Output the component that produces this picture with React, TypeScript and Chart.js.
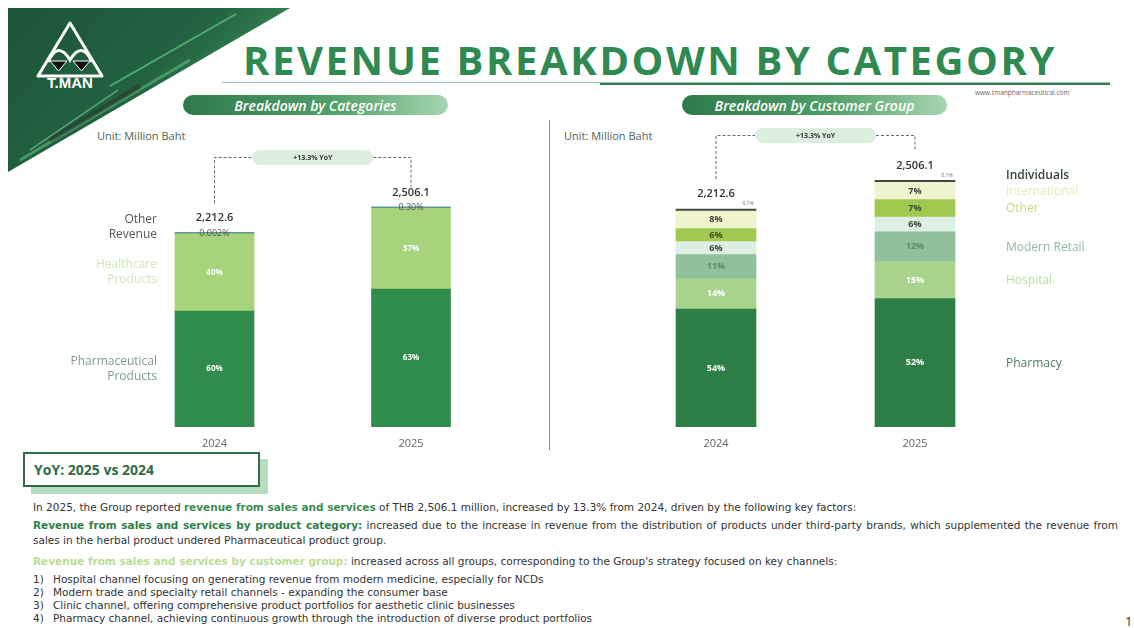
import React, { useEffect, useRef } from 'react';
import { Chart, registerables } from 'chart.js';

Chart.register(...registerables);

// ---------------- data ----------------
const years = ['2024', '2025'];
const totals = [2212.6, 2506.1];
const totalLabels = ['2,212.6', '2,506.1'];
const yoyText = '+13.3% YoY';

// Breakdown by categories (share of revenue, %)
const pharmaceuticalShare = [60, 63];
const healthcareShare = [40, 37];
const otherRevenueShare = [0.002, 0.3];
const otherRevenueLabels = ['0.002%', '0.30%'];

// Breakdown by customer group (share of revenue, %)
const pharmacyShare = [54, 52];
const hospitalShare = [14, 15];
const modernRetailShare = [11, 12];
const clinicShare = [6, 6];
const otherGroupShare = [6, 7];
const internationalShare = [8, 7];
const individualsShare = [0.1, 0.1];

const toValues = (share: number[]) => share.map((s, i) => (totals[i] * s) / 100);

const FONT = "'Open Sans', 'Noto Sans', sans-serif";

function drawBracket(chart: any, y: number, ends: number[]) {
  const ctx = chart.ctx;
  const xs = [0, 1].map((i) => chart.scales.x.getPixelForValue(i));
  const mid = (xs[0] + xs[1]) / 2;
  const pw = 121;
  const ph = 15;
  ctx.save();
  ctx.strokeStyle = '#6b6b6b';
  ctx.lineWidth = 1;
  ctx.setLineDash([3, 2]);
  ctx.beginPath();
  ctx.moveTo(xs[0], ends[0]);
  ctx.lineTo(xs[0], y);
  ctx.lineTo(mid - pw / 2, y);
  ctx.moveTo(mid + pw / 2, y);
  ctx.lineTo(xs[1], y);
  ctx.lineTo(xs[1], ends[1]);
  ctx.stroke();
  ctx.setLineDash([]);
  ctx.fillStyle = '#dcefdf';
  ctx.beginPath();
  (ctx as any).roundRect(mid - pw / 2, y - ph / 2, pw, ph, 7.5);
  ctx.fill();
  ctx.fillStyle = '#333';
  ctx.font = `bold 7px ${FONT}`;
  ctx.textAlign = 'center';
  ctx.textBaseline = 'middle';
  ctx.fillText(yoyText, mid, y + 0.5);
  ctx.restore();
}

function stackTop(chart: any, idx: number) {
  let top = Infinity;
  chart.data.datasets.forEach((_d: any, di: number) => {
    const el = chart.getDatasetMeta(di).data[idx] as any;
    top = Math.min(top, el.y);
  });
  return top;
}

// ---------- left chart: categories ----------
const leftSide = [
  { lines: ['Pharmaceutical', 'Products'], color: '#7f9c89' },
  { lines: ['Healthcare', 'Products'], color: '#cfe6b8' },
  { lines: ['Other', 'Revenue'], color: '#555555' },
];

const leftPlugin = {
  id: 'leftDecor',
  afterDatasetsDraw(chart: any) {
    const ctx = chart.ctx;
    ctx.save();
    ctx.textAlign = 'center';
    ctx.textBaseline = 'middle';
    [0, 1].forEach((di) => {
      const meta = chart.getDatasetMeta(di);
      const shares = di === 0 ? pharmaceuticalShare : healthcareShare;
      meta.data.forEach((el: any, i: number) => {
        ctx.fillStyle = '#ffffff';
        ctx.font = `bold 8px ${FONT}`;
        ctx.fillText(`${shares[i]}%`, el.x, (el.y + el.base) / 2);
      });
    });
    const tops = [0, 1].map((i) => stackTop(chart, i));
    chart.getDatasetMeta(2).data.forEach((el: any, i: number) => {
      ctx.fillStyle = '#555';
      ctx.font = `9px ${FONT}`;
      ctx.fillText(otherRevenueLabels[i], el.x, tops[i] + 1);
      ctx.fillStyle = '#333';
      ctx.font = `600 11px ${FONT}`;
      ctx.fillText(totalLabels[i], el.x, tops[i] - 14);
      ctx.fillStyle = '#666';
      ctx.font = `11px ${FONT}`;
      ctx.fillText(years[i], el.x, chart.chartArea.bottom + 17);
    });
    ctx.textAlign = 'right';
    ctx.font = `12px ${FONT}`;
    const first = chart.getDatasetMeta(0).data[0] as any;
    const xr = first.x - first.width / 2 - 18;
    leftSide.forEach((s, di) => {
      const el = chart.getDatasetMeta(di).data[0] as any;
      const cy = di === 2 ? tops[0] - 5 : (el.y + el.base) / 2;
      ctx.fillStyle = s.color;
      ctx.fillText(s.lines[0], xr, cy - 7.5);
      ctx.fillText(s.lines[1], xr, cy + 7.5);
    });
    ctx.restore();
    drawBracket(chart, 157.5 - 140, [tops[0] - 29, tops[1] - 20]);
  },
};

function leftConfig(): any {
  return {
    type: 'bar',
    data: {
      labels: years,
      datasets: [
        { label: 'Pharmaceutical Products', data: toValues(pharmaceuticalShare), backgroundColor: '#2f8c4c' },
        { label: 'Healthcare Products', data: toValues(healthcareShare), backgroundColor: '#a7d37c' },
        { label: 'Other Revenue', data: toValues(otherRevenueShare), backgroundColor: '#5d9a95', minBarLength: 1.5 },
      ],
    },
    options: {
      animation: false,
      responsive: false,
      layout: { padding: { left: 66.25, right: 10.75, top: 25.1, bottom: 33 } },
      datasets: { bar: { barThickness: 79, borderWidth: 0 } },
      scales: {
        x: { display: false, stacked: true },
        y: { display: false, stacked: true, min: 0, max: 3000 },
      },
      plugins: { legend: { display: false }, tooltip: { enabled: false } },
    },
    plugins: [leftPlugin],
  };
}

// ---------- right chart: customer group ----------
const groups = [
  { name: 'Pharmacy', share: pharmacyShare, color: '#2e7f47', text: '#ffffff', legend: '#4f7d5f' },
  { name: 'Hospital', share: hospitalShare, color: '#a9d38c', text: '#ffffff', legend: '#bcdda2' },
  { name: 'Modern Retail', share: modernRetailShare, color: '#8fc19c', text: '#5a8a68', legend: '#93b9a0' },
  { name: 'Clinic', share: clinicShare, color: '#deefe3', text: '#3d3d3d', legend: '' },
  { name: 'Other', share: otherGroupShare, color: '#a2c94f', text: '#3a4a2a', legend: '#c4da80' },
  { name: 'International', share: internationalShare, color: '#eff4cd', text: '#3d3d3d', legend: '#e4eeb6' },
  { name: 'Individuals', share: individualsShare, color: '#3e4a45', text: '#666666', legend: '#34423f' },
];

const rightPlugin = {
  id: 'rightDecor',
  afterDatasetsDraw(chart: any) {
    const ctx = chart.ctx;
    ctx.save();
    ctx.textAlign = 'center';
    ctx.textBaseline = 'middle';
    const tops = [0, 1].map((i) => stackTop(chart, i));
    groups.forEach((g, di) => {
      const meta = chart.getDatasetMeta(di);
      meta.data.forEach((el: any, i: number) => {
        if (g.name === 'Individuals') {
          ctx.fillStyle = g.text;
          ctx.font = `5px ${FONT}`;
          ctx.fillText(`${g.share[i]}%`, el.x + el.width / 2 - 8, el.y - 5);
        } else {
          ctx.fillStyle = g.text;
          ctx.font = `bold 9px ${FONT}`;
          ctx.fillText(`${g.share[i]}%`, el.x, (el.y + el.base) / 2);
        }
      });
    });
    [0, 1].forEach((i) => {
      const x = chart.scales.x.getPixelForValue(i);
      ctx.fillStyle = '#333';
      ctx.font = `600 11px ${FONT}`;
      ctx.fillText(totalLabels[i], x, tops[i] - 15);
      ctx.fillStyle = '#666';
      ctx.font = `11px ${FONT}`;
      ctx.fillText(years[i], x, chart.chartArea.bottom + 17);
    });
    const ys: number[] = groups.map((_g, di) => {
      const el = chart.getDatasetMeta(di).data[1] as any;
      return (el.y + el.base) / 2;
    });
    for (let k = 1; k < ys.length; k++) ys[k] = Math.min(ys[k], ys[k - 1] - 16);
    ctx.textAlign = 'left';
    groups.forEach((g, di) => {
      if (!g.legend) return;
      ctx.fillStyle = g.legend;
      ctx.font = `${g.name === 'Individuals' ? '600 ' : ''}12px ${FONT}`;
      ctx.fillText(g.name, 1006 - 600, ys[di] + 0.5);
    });
    ctx.restore();
    drawBracket(chart, 135.5 - 110, [tops[0] - 30, tops[1] - 29]);
  },
};

function rightConfig(): any {
  return {
    type: 'bar',
    data: {
      labels: years,
      datasets: groups.map((g) => ({
        label: g.name,
        data: toValues(g.share),
        backgroundColor: g.color,
        minBarLength: g.name === 'Individuals' ? 2 : 0,
      })),
    },
    options: {
      animation: false,
      responsive: false,
      layout: { padding: { left: 16.5, right: 119.5, top: 21.2, bottom: 33 } },
      datasets: { bar: { barThickness: 80, borderWidth: 0 } },
      scales: {
        x: { display: false, stacked: true },
        y: { display: false, stacked: true, min: 0, max: 3000 },
      },
      plugins: { legend: { display: false }, tooltip: { enabled: false } },
    },
    plugins: [rightPlugin],
  };
}

function ChartCanvas(props: { make: () => any; left: number; top: number; width: number; height: number }) {
  const ref = useRef<HTMLCanvasElement>(null);
  useEffect(() => {
    const chart = new Chart(ref.current as HTMLCanvasElement, props.make());
    return () => chart.destroy();
  }, []);
  return (
    <canvas
      ref={ref}
      width={props.width}
      height={props.height}
      style={{ position: 'absolute', left: props.left, top: props.top, width: props.width, height: props.height }}
    />
  );
}

const abs = (o: any): React.CSSProperties => ({ position: 'absolute', ...o });

function Pill(props: { left: number; text: string }) {
  return (
    <div
      style={abs({
        left: props.left,
        top: 95,
        width: 265,
        height: 20,
        borderRadius: 10,
        background: 'linear-gradient(90deg, #2f7a4c 0%, #4f9d67 55%, #a7d6b0 100%)',
        color: '#fff',
        font: `italic 600 14px ${FONT}`,
        display: 'flex',
        alignItems: 'center',
        justifyContent: 'center',
      })}
    >
      {props.text}
    </div>
  );
}

export default function App() {
  const body = "'DejaVu Sans', 'Noto Sans', sans-serif";
  const bodyFont = `10.5px ${body}`;
  return (
    <div style={abs({ left: 0, top: 0, width: 1134, height: 628, background: '#fff', overflow: 'hidden', fontFamily: FONT })}>
      {/* header band + logo */}
      <svg width={320} height={200} style={abs({ left: 0, top: 0 })}>
        <defs>
          <linearGradient id="band" x1="0" y1="0" x2="1" y2="0.6">
            <stop offset="0" stopColor="#1c5537" />
            <stop offset="0.55" stopColor="#226240" />
            <stop offset="0.85" stopColor="#3b8d58" />
            <stop offset="1" stopColor="#ffffff" stopOpacity="0" />
          </linearGradient>
        </defs>
        <polygon points="8,8 290,8 8,172" fill="url(#band)" />
        <line x1="236" y1="14" x2="110" y2="86" stroke="#58c27a" strokeWidth="2" opacity="0.8" />
        <line x1="190" y1="60" x2="20" y2="160" stroke="#6ccf86" strokeWidth="3" opacity="0.5" />
        <line x1="140" y1="86" x2="50" y2="140" stroke="#2b2f2c" strokeWidth="5" opacity="0.5" />
        <line x1="118" y1="90" x2="30" y2="150" stroke="#8fe0a4" strokeWidth="1.5" opacity="0.6" />
        <polygon points="70,23 38,76 102,76" fill="none" stroke="#fff" strokeWidth="3" strokeLinejoin="round" />
        <path d="M48,62 Q58,40 70,60 Q82,40 92,62" fill="none" stroke="#fff" strokeWidth="3" />
        <polygon points="50,61 67,61 58.5,71" fill="#111" stroke="#fff" strokeWidth="1" />
        <polygon points="73,61 90,61 81.5,71" fill="#111" stroke="#fff" strokeWidth="1" />
        <text x="70" y="88" textAnchor="middle" fill="#fff" fontFamily="'Liberation Sans', Arial, sans-serif" fontWeight="bold" fontSize="15">
          T.MAN
        </text>
      </svg>

      {/* title */}
      <div style={abs({ left: 243, top: 32, font: `bold 40px ${FONT}`, letterSpacing: 2.6, color: '#2f8a51', whiteSpace: 'nowrap' })}>
        REVENUE BREAKDOWN BY CATEGORY
      </div>
      <div style={abs({ left: 222, top: 82, width: 888, height: 1, background: '#9ccaa8' })} />
      <div style={abs({ left: 600, top: 83, width: 510, height: 2, background: '#2f7d4d' })} />
      <div style={abs({ left: 975, top: 88, font: `6.5px ${FONT}`, color: '#666', whiteSpace: 'nowrap' })}>
        www.tmanpharmaceutical.com
      </div>

      <Pill left={183} text="Breakdown by Categories" />
      <Pill left={682} text="Breakdown by Customer Group" />

      <div style={abs({ left: 97, top: 128, font: `11px ${FONT}`, color: '#4f5f55' })}>Unit: Million Baht</div>
      <div style={abs({ left: 564, top: 128, font: `11px ${FONT}`, color: '#4f5f55' })}>Unit: Million Baht</div>
      <div style={abs({ left: 549, top: 120, width: 1, height: 330, background: '#8a8a8a' })} />

      <ChartCanvas make={leftConfig} left={50} top={140} width={470} height={320} />
      <ChartCanvas make={rightConfig} left={600} top={110} width={534} height={350} />

      {/* YoY box */}
      <div style={abs({ left: 31, top: 459, width: 237, height: 35, background: '#b7dcc1' })} />
      <div
        style={abs({
          left: 23,
          top: 452,
          width: 237,
          height: 35,
          border: '2px solid #2e6e47',
          background: '#fff',
          font: `bold 14px ${FONT}`,
          color: '#2e6b47',
          display: 'flex',
          alignItems: 'center',
          paddingLeft: 9,
          boxSizing: 'border-box',
        })}
      >
        YoY: 2025 vs 2024
      </div>

      {/* narrative */}
      <div style={abs({ left: 33, top: 500, width: 1085, font: bodyFont, color: '#333', lineHeight: '15px', whiteSpace: 'nowrap' })}>
        In 2025, the Group reported <b style={{ color: '#3d8c52' }}>revenue from sales and services</b> of THB 2,506.1 million, increased by 13.3% from 2024, driven by the following key factors:
      </div>
      <div style={abs({ left: 33, top: 518, width: 1085, font: bodyFont, color: '#333', lineHeight: '15px', textAlign: 'justify' })}>
        <b style={{ color: '#2f7f47' }}>Revenue from sales and services by product category:</b> increased due to the increase in revenue from the distribution of products under third-party brands, which supplemented the revenue from sales in the herbal product undered Pharmaceutical product group.
      </div>
      <div style={abs({ left: 33, top: 554, width: 1085, font: bodyFont, color: '#333', lineHeight: '15px', whiteSpace: 'nowrap' })}>
        <b style={{ color: '#b9dd92' }}>Revenue from sales and services by customer group:</b> increased across all groups, corresponding to the Group's strategy focused on key channels:
      </div>
      {[
        'Hospital channel focusing on generating revenue from modern medicine, especially for NCDs',
        'Modern trade and specialty retail channels - expanding the consumer base',
        'Clinic channel, offering comprehensive product portfolios for aesthetic clinic businesses',
        'Pharmacy channel, achieving continuous growth through the introduction of diverse product portfolios',
      ].map((t, i) => (
        <div key={i} style={abs({ left: 33, top: 573 + i * 13, font: bodyFont, color: '#333', lineHeight: '13px', whiteSpace: 'nowrap' })}>
          <span style={{ display: 'inline-block', width: 20 }}>{i + 1})</span>
          {t}
        </div>
      ))}
      <div style={abs({ left: 1125, top: 612, font: `13px ${FONT}`, color: '#333' })}>1</div>
    </div>
  );
}
